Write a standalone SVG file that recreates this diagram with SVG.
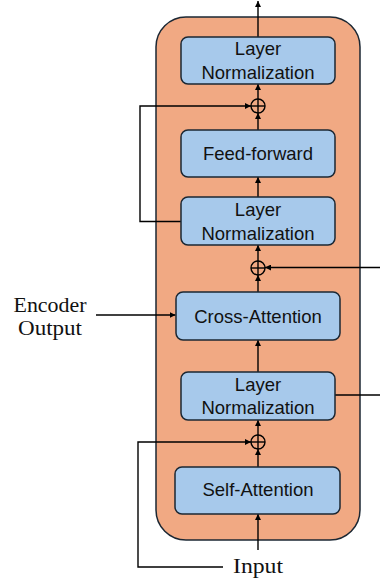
<svg xmlns="http://www.w3.org/2000/svg" width="380" height="584" viewBox="0 0 380 584">
  <style>
    .blk rect { fill: #A7C9EB; stroke: #1B2733; stroke-width: 1.5; }
    .blk text { font-family: "Liberation Sans", Arial, sans-serif; font-size: 18.5px; fill: #111; text-anchor: middle; }
    .lbl { font-family: "Liberation Serif", "Times New Roman", serif; font-size: 20px; fill: #111; text-anchor: middle; }
    .wire { fill: none; stroke: #000; stroke-width: 1.4; }
    .arr { marker-end: url(#head); }
    .sum circle { fill: none; stroke: #000; stroke-width: 1.4; }
    .sum line { stroke: #000; stroke-width: 1.4; }
  </style>
  <defs>
    <marker id="head" viewBox="0 0 10 10" refX="10" refY="5" markerWidth="6" markerHeight="6" markerUnits="userSpaceOnUse" orient="auto">
      <path d="M0,0 L10,5 L0,10 Z" fill="#000"/>
    </marker>
  </defs>

  <!-- decoder block container -->
  <g id="decoder">
    <rect x="156" y="17" width="204" height="523" rx="30" fill="#F1A983" stroke="#1B2733" stroke-width="1.5"/>
  </g>

  <g id="connectors">
    <!-- main vertical path -->
    <line class="wire arr" x1="258" y1="37" x2="258" y2="1"/>
    <line class="wire arr" x1="258" y1="99" x2="258" y2="84"/>
    <line class="wire arr" x1="258" y1="130" x2="258" y2="113"/>
    <line class="wire arr" x1="258" y1="197" x2="258" y2="177"/>
    <line class="wire arr" x1="258" y1="261" x2="258" y2="245"/>
    <line class="wire arr" x1="258" y1="292" x2="258" y2="275"/>
    <line class="wire arr" x1="258" y1="372" x2="258" y2="340"/>
    <line class="wire arr" x1="258" y1="435" x2="258" y2="420"/>
    <line class="wire arr" x1="258" y1="467" x2="258" y2="449"/>
    <line class="wire arr" x1="258" y1="550" x2="258" y2="514"/>
    <!-- residual links -->
    <polyline class="wire arr" points="181,221.5 140,221.5 140,106 251,106"/>
    <polyline class="wire arr" points="380,267.5 265,267.5"/>
    <polyline class="wire" points="335,395 380,395"/>
    <polyline class="wire arr" points="223,567 138,567 138,442 251,442"/>
    <!-- encoder output into cross-attention -->
    <line class="wire arr" x1="96" y1="315" x2="175.5" y2="315"/>
  </g>

  <g id="sum1" class="sum">
    <circle cx="258" cy="106" r="7"/>
    <line x1="251" y1="106" x2="265" y2="106"/>
    <line x1="258" y1="99" x2="258" y2="113"/>
  </g>
  <g id="sum2" class="sum">
    <circle cx="258" cy="268" r="7"/>
    <line x1="251" y1="268" x2="265" y2="268"/>
    <line x1="258" y1="261" x2="258" y2="275"/>
  </g>
  <g id="sum3" class="sum">
    <circle cx="258" cy="442" r="7"/>
    <line x1="251" y1="442" x2="265" y2="442"/>
    <line x1="258" y1="435" x2="258" y2="449"/>
  </g>

  <g id="norm-top" class="blk">
    <rect x="181" y="37" width="154" height="47" rx="7"/>
    <text x="258" y="55">Layer</text>
    <text x="258" y="79">Normalization</text>
  </g>
  <g id="feed-forward" class="blk">
    <rect x="181" y="130" width="154" height="47" rx="7"/>
    <text x="258" y="160">Feed-forward</text>
  </g>
  <g id="norm-mid" class="blk">
    <rect x="181" y="197" width="154" height="48" rx="7"/>
    <text x="258" y="216">Layer</text>
    <text x="258" y="240">Normalization</text>
  </g>
  <g id="cross-attention" class="blk">
    <rect x="176" y="292" width="164" height="48" rx="7"/>
    <text x="258" y="323">Cross-Attention</text>
  </g>
  <g id="norm-low" class="blk">
    <rect x="181" y="372" width="154" height="48" rx="7"/>
    <text x="258" y="391">Layer</text>
    <text x="258" y="414">Normalization</text>
  </g>
  <g id="self-attention" class="blk">
    <rect x="175" y="467" width="165" height="47" rx="7"/>
    <text x="258" y="496">Self-Attention</text>
  </g>

  <g id="encoder-output">
    <text class="lbl" x="50" y="312" textLength="73" lengthAdjust="spacingAndGlyphs">Encoder</text>
    <text class="lbl" x="50" y="335" textLength="64" lengthAdjust="spacingAndGlyphs">Output</text>
  </g>
  <g id="input">
    <text class="lbl" x="258" y="573" textLength="50" lengthAdjust="spacingAndGlyphs">Input</text>
  </g>
</svg>
